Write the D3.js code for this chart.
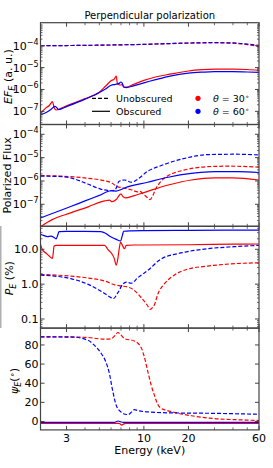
<!DOCTYPE html>
<html>
<head>
<meta charset="utf-8">
<script src="https://cdn.jsdelivr.net/npm/d3@7"></script>
<style>
body { margin: 0; background: #fff; }
svg { display: block; font-family: "DejaVu Sans", sans-serif; }
</style>
</head>
<body>
<svg id="chart" width="273" height="468"></svg>
<script>

// ---- panel 1 : E F_E (a. u.) ----
var fluxUnobsE = [2, 3, 5, 7, 10, 15, 20, 30, 40, 50, 60]
var fluxUnobs30 = [1.0e-4, 1.02e-4, 1.06e-4, 1.1e-4, 1.15e-4, 1.25e-4, 1.32e-4, 1.37e-4, 1.31e-4, 1.13e-4, 9.0e-5]
var fluxUnobs60 = [1.0e-4, 1.02e-4, 1.06e-4, 1.1e-4, 1.16e-4, 1.26e-4, 1.33e-4, 1.38e-4, 1.34e-4, 1.19e-4, 1.04e-4]

var fluxObs30E = [2, 2.17, 2.3, 2.41, 2.47, 2.55, 2.7, 3, 4, 5, 5.5, 6, 6.3, 6.5, 6.62, 6.8, 7.0, 7.15, 7.3, 7.6, 8.5, 10, 12, 15, 20, 25, 30, 40, 50, 60]
var fluxObs30 = [8.5e-8, 1.4e-7, 1.9e-7, 2.8e-7, 1.5e-7, 1.15e-7, 1.3e-7, 1.8e-7, 3.8e-7, 7.5e-7, 1.4e-6, 2.5e-6, 3.0e-6, 4.1e-6, 1.9e-6, 1.65e-6, 1.6e-6, 1.7e-6, 1.3e-6, 1.28e-6, 1.7e-6, 2.6e-6, 3.7e-6, 5.0e-6, 7.0e-6, 8.0e-6, 8.5e-6, 8.6e-6, 8.2e-6, 7.5e-6]

var fluxObs60E = [2, 2.2, 2.35, 2.5, 2.57, 2.65, 3, 4, 5, 5.5, 6, 6.4, 6.8, 7.0, 7.15, 7.3, 7.6, 8.5, 10, 12, 15, 20, 25, 30, 40, 50, 60]
var fluxObs60 = [7e-8, 9e-8, 1.2e-7, 1.7e-7, 1.5e-7, 1.2e-7, 1.65e-7, 3.6e-7, 7.2e-7, 1.05e-6, 1.55e-6, 1.7e-6, 1.9e-6, 2.2e-6, 1.9e-6, 1.3e-6, 1.22e-6, 1.45e-6, 2.0e-6, 2.8e-6, 4.1e-6, 5.6e-6, 6.2e-6, 6.5e-6, 6.5e-6, 6.3e-6, 6.0e-6]

// ---- panel 2 : polarized flux ----
var polUnobs30E = [2, 3.2, 4.2, 5.4, 6.0, 6.66, 7.0, 7.5, 8.2, 9.1, 9.4, 10, 10.6, 11.0, 11.5, 12.0, 12.4, 13.5, 14.6, 18.2, 27, 38, 60]
var polUnobs30 = [1.7e-6, 1.53e-6, 1.3e-6, 1.03e-6, 8.5e-7, 5.6e-7, 5.2e-7, 4.8e-7, 4.2e-7, 3.4e-7, 3.6e-7, 2.6e-7, 1.9e-7, 1.6e-7, 2.4e-7, 4.5e-7, 6.3e-7, 1.2e-6, 1.7e-6, 2.8e-6, 4.1e-6, 4.3e-6, 3.9e-6]

var polUnobs60E = [2, 2.5, 3.2, 4.17, 5.1, 6.1, 6.4, 6.8, 7.4, 8.2, 9.1, 10.6, 13, 18.2, 27, 41, 60]
var polUnobs60 = [1.6e-6, 1.58e-6, 1.35e-6, 7.4e-7, 4.5e-7, 3.8e-7, 4.2e-7, 9.7e-7, 1.1e-6, 8.8e-7, 1.2e-6, 2.6e-6, 4.5e-6, 8.8e-6, 1.35e-5, 1.4e-5, 1.3e-5]

var polObs30E = [2, 2.23, 2.4, 3.2, 4.2, 5.43, 5.85, 6.1, 6.5, 7.0, 7.2, 7.5, 8.5, 10.6, 14.6, 20.9, 30, 40, 60]
var polObs30 = [1.1e-8, 1.7e-8, 2.2e-8, 4.3e-8, 7.8e-8, 1.4e-7, 1.5e-7, 1.3e-7, 1.6e-7, 2.8e-7, 2.2e-7, 1.9e-7, 2.3e-7, 3.6e-7, 6.7e-7, 1.1e-6, 1.35e-6, 1.35e-6, 1.1e-6]

var polObs60E = [2, 3.2, 4, 5, 6, 6.5, 7.0, 7.4, 10.6, 14.6, 20.9, 30, 43, 60]
var polObs60 = [2.6e-8, 8e-8, 1.4e-7, 2.4e-7, 3.8e-7, 3.7e-7, 4.3e-7, 5e-7, 8.8e-7, 1.44e-6, 2.1e-6, 2.5e-6, 2.5e-6, 2.3e-6]

// ---- panel 3 : P_E (%) ----
var pUnobs30E = [2, 3.2, 4.2, 5.43, 6.5, 7.0, 8.2, 9.1, 9.6, 10.6, 11.0, 11.5, 11.8, 12.4, 13.7, 16, 19.8, 27, 38, 60]
var pUnobs30 = [1.9, 1.7, 1.5, 1.23, 0.93, 0.89, 0.76, 0.53, 0.41, 0.24, 0.19, 0.22, 0.26, 0.51, 1.0, 1.8, 2.7, 3.3, 3.8, 4.1]

var pUnobs60E = [2, 3.2, 4.17, 5.1, 6.0, 6.2, 6.66, 7.2, 7.6, 8.2, 9.1, 10.6, 13, 18.2, 27, 41, 60]
var pUnobs60 = [1.82, 1.44, 1.0, 0.64, 0.41, 0.38, 0.56, 1.0, 1.15, 1.06, 1.53, 2.45, 5.2, 8, 10.4, 11.9, 13]

var pObs30E = [2, 2.06, 2.2, 2.29, 2.41, 2.44, 2.47, 2.55, 3, 5, 5.43, 5.7, 6.1, 6.3, 6.5, 6.66, 6.8, 6.96, 7.1, 7.3, 7.4, 7.6, 8.5, 10, 20, 40, 60]
var pObs30 = [13.9, 9.8, 7.5, 6.4, 5.5, 8, 12.5, 13.0, 13, 13, 13, 10, 7.2, 5.5, 3.5, 5.2, 10, 16.2, 13.9, 11, 10.4, 13, 13.3, 13.3, 13.5, 14, 14.2]

var pObs60E = [2, 2.1, 2.23, 2.35, 2.5, 2.55, 2.62, 2.67, 3, 4, 5.1, 5.5, 5.85, 6.2, 6.5, 6.96, 7.15, 7.3, 8, 10, 20, 60]
var pObs60 = [27, 25, 23, 24, 21, 20, 26, 32, 32.5, 32.5, 32, 29, 24, 21, 19.3, 17.3, 25, 33, 34, 34.5, 35, 35.5]

// ---- panel 4 : psi_E (deg) ----
var psiUnobs30E = [2, 4, 5.43, 6.0, 6.4, 6.66, 6.9, 7.4, 8.6, 9.6, 10.0, 10.6, 11.2, 11.8, 12.4, 13, 14.3, 16, 21, 30, 43, 60]
var psiUnobs30 = [88.4, 88, 86, 86.5, 90, 93, 91.5, 86.6, 84.2, 77, 69, 53, 38, 27, 18, 14, 11.5, 9.5, 6, 3, 1.8, 1]

var psiUnobs60E = [2, 3.2, 4.17, 4.6, 5.1, 5.54, 5.85, 6.1, 6.5, 7.0, 7.5, 7.84, 8.2, 8.6, 9.3, 10.6, 15, 30, 60]
var psiUnobs60 = [88.4, 88.4, 85, 80, 72, 62, 50, 35, 17, 10, 7.6, 7.2, 9.5, 12.3, 11, 10, 9, 8.5, 7.5]

var psiObs30E = [2, 6.8, 7.1, 7.3, 7.6, 60]
var psiObs30 = [-2, -2, -3.8, -2.5, -2, -2]

var psiObs60E = [2, 6.3, 6.7, 7.0, 7.3, 60]
var psiObs60 = [-1, -1, 0.5, -0.5, -1, -1]

// ticks
var energyTicks = [3, 10, 20, 60]
var energyTickLabels = ["3", "10", "20", "60"]
var fluxTicks = [1e-7, 1e-6, 1e-5, 1e-4]
var polTicks = [1e-7, 1e-6, 1e-5, 1e-4]
var pTicks = [0.1, 1, 10]
var pTickLabels = ["0.1", "1.0", "10.0"]
var psiTicks = [0, 20, 40, 60, 80]
var psiTickLabels = ["0", "20", "40", "60", "80"]

var RED = "#ff0000", BLUE = "#0000ff"

var svg = d3.select("#chart")

var left = 40.5, right = 259, top0 = 22.7, panelH = 101.8

var x = d3.scaleLog().domain([2, 60]).range([left, right])

function pairs(es, vs) {
    return es.map(function(e, i) { return [e, vs[i]] })
}

var panels = [
    {domain: [2.5e-8, 1.13e-3], log: true, ticks: fluxTicks, labels: null,
     series: [[fluxUnobsE, fluxUnobs30, RED, true], [fluxUnobsE, fluxUnobs60, BLUE, true],
              [fluxObs30E, fluxObs30, RED, false], [fluxObs60E, fluxObs60, BLUE, false]]},
    {domain: [1.14e-8, 2.63e-4], log: true, ticks: polTicks, labels: null,
     series: [[polUnobs30E, polUnobs30, RED, true], [polUnobs60E, polUnobs60, BLUE, true],
              [polObs30E, polObs30, RED, false], [polObs60E, polObs60, BLUE, false]]},
    {domain: [0.0548, 45.7], log: true, ticks: pTicks, labels: pTickLabels,
     series: [[pUnobs30E, pUnobs30, RED, true], [pUnobs60E, pUnobs60, BLUE, true],
              [pObs30E, pObs30, RED, false], [pObs60E, pObs60, BLUE, false]]},
    {domain: [-8.8, 97.6], log: false, ticks: psiTicks, labels: psiTickLabels,
     series: [[psiUnobs30E, psiUnobs30, RED, true], [psiUnobs60E, psiUnobs60, BLUE, true],
              [psiObs30E, psiObs30, RED, false], [psiObs60E, psiObs60, BLUE, false]]}
]

// stray grey edge at the far left of the third panel
svg.append("rect").attr("x", 0).attr("y", 226).attr("width", 1.5).attr("height", 102).attr("fill", "#b0b0b0")

var frameColor = "#444"
var yScales = []

panels.forEach(function(p, k) {
    var y0 = top0 + k * panelH, y1 = y0 + panelH
    var y = p.log ? d3.scaleLog() : d3.scaleLinear()
    y.domain(p.domain).range([y1, y0])
    yScales.push(y)

    var g = svg.append("g")

    g.append("clipPath").attr("id", "clip" + k)
        .append("rect").attr("x", left).attr("y", y0).attr("width", right - left).attr("height", panelH)

    var line = d3.line()
        .x(function(d) { return x(d[0]) })
        .y(function(d) { return y(d[1]) })
        .curve(d3.curveMonotoneX)

    var plot = g.append("g").attr("clip-path", "url(#clip" + k + ")")
    p.series.forEach(function(s) {
        plot.append("path")
            .attr("d", line(pairs(s[0], s[1])))
            .attr("fill", "none")
            .attr("stroke", s[2])
            .attr("stroke-width", 1.2)
            .attr("stroke-dasharray", s[3] ? "4,2" : null)
    })

    // x ticks, top and bottom, inward
    var xMinor = x.ticks().filter(function(t) { return energyTicks.indexOf(t) < 0 })
    energyTicks.forEach(function(t) {
        g.append("line").attr("x1", x(t)).attr("x2", x(t)).attr("y1", y1).attr("y2", y1 - 4).attr("stroke", frameColor)
        g.append("line").attr("x1", x(t)).attr("x2", x(t)).attr("y1", y0).attr("y2", y0 + 4).attr("stroke", frameColor)
    })
    xMinor.forEach(function(t) {
        g.append("line").attr("x1", x(t)).attr("x2", x(t)).attr("y1", y1).attr("y2", y1 - 2.5).attr("stroke", frameColor).attr("stroke-width", 0.8)
        g.append("line").attr("x1", x(t)).attr("x2", x(t)).attr("y1", y0).attr("y2", y0 + 2.5).attr("stroke", frameColor).attr("stroke-width", 0.8)
    })

    // y ticks
    p.ticks.forEach(function(t) {
        g.append("line").attr("x1", left).attr("x2", left + 4).attr("y1", y(t)).attr("y2", y(t)).attr("stroke", frameColor)
        g.append("line").attr("x1", right).attr("x2", right - 4).attr("y1", y(t)).attr("y2", y(t)).attr("stroke", frameColor)
    })
    if (p.log) {
        var yMinor = y.ticks().filter(function(t) {
            var l = Math.log10(t)
            return Math.abs(l - Math.round(l)) > 1e-6
        })
        yMinor.forEach(function(t) {
            g.append("line").attr("x1", left).attr("x2", left + 2).attr("y1", y(t)).attr("y2", y(t)).attr("stroke", frameColor).attr("stroke-width", 0.8)
            g.append("line").attr("x1", right).attr("x2", right - 2).attr("y1", y(t)).attr("y2", y(t)).attr("stroke", frameColor).attr("stroke-width", 0.8)
        })
    }

    // frame
    g.append("rect").attr("x", left).attr("y", y0).attr("width", right - left).attr("height", panelH)
        .attr("fill", "none").attr("stroke", frameColor).attr("stroke-width", 1.2)
})

// y tick labels
var tickText = svg.append("g").attr("font-size", 11).attr("fill", "#000")
panels.forEach(function(p, k) {
    var y = yScales[k]
    p.ticks.forEach(function(t, i) {
        var txt = tickText.append("text")
            .attr("x", 38.5).attr("y", y(t)).attr("dy", "0.36em")
            .attr("text-anchor", "end")
        if (p.labels == null) {
            txt.append("tspan").text("10")
            txt.append("tspan").attr("font-size", 8).attr("dy", -5)
                .text("\u2212" + Math.round(-Math.log10(t)))
        } else {
            txt.text(p.labels[i])
        }
    })
})

// x tick labels on bottom panel
var bottom = top0 + 4 * panelH
energyTicks.forEach(function(t, i) {
    svg.append("text").attr("x", x(t)).attr("y", bottom + 12)
        .attr("text-anchor", "middle").attr("font-size", 11).text(energyTickLabels[i])
})

svg.append("text").attr("x", (left + right) / 2).attr("y", 454)
    .attr("text-anchor", "middle").attr("font-size", 11).text("Energy (keV)")

svg.append("text").attr("x", (left + right) / 2).attr("y", 18.5)
    .attr("text-anchor", "middle").attr("font-size", 10).text("Perpendicular polarization")

// y labels
function yLabel(cx, cy) {
    return svg.append("text")
        .attr("transform", "translate(" + cx + "," + cy + ") rotate(-90)")
        .attr("text-anchor", "middle").attr("font-size", 11)
}

var l1 = yLabel(12, top0 + panelH * 0.5 + 3)
l1.append("tspan").attr("font-style", "italic").text("EF")
l1.append("tspan").attr("font-style", "italic").attr("font-size", 8).attr("dy", 3).text("E")
l1.append("tspan").attr("dy", -3).text(" (a. u.)")

var l2 = yLabel(11, top0 + panelH * 1.5)
l2.text("Polarized Flux")

var l3 = yLabel(13, top0 + panelH * 2.5 + 1)
l3.append("tspan").attr("font-style", "italic").text("P")
l3.append("tspan").attr("font-style", "italic").attr("font-size", 8).attr("dy", 3).text("E")
l3.append("tspan").attr("dy", -3).text(" (%)")

var l4 = yLabel(18, top0 + panelH * 3.5 + 2)
l4.append("tspan").attr("font-style", "italic").text("\u03c8")
l4.append("tspan").attr("font-style", "italic").attr("font-size", 8).attr("dy", 3).text("E")
l4.append("tspan").attr("dy", -3).text("(")
l4.append("tspan").attr("font-size", 8).attr("dy", -3).text("\u2218")
l4.append("tspan").attr("dy", 3).text(")")

// legend in first panel
var leg = svg.append("g")
leg.append("line").attr("x1", 92).attr("x2", 110).attr("y1", 98.3).attr("y2", 98.3)
    .attr("stroke", "#000").attr("stroke-width", 1.2).attr("stroke-dasharray", "4,2")
leg.append("line").attr("x1", 92).attr("x2", 110).attr("y1", 111.3).attr("y2", 111.3)
    .attr("stroke", "#000").attr("stroke-width", 1.2)
leg.append("text").attr("x", 116).attr("y", 101.8).attr("font-size", 9.5).text("Unobscured")
leg.append("text").attr("x", 116).attr("y", 114.8).attr("font-size", 9.5).text("Obscured")

var thetaLabels = ["30", "60"]
var thetaColors = [RED, BLUE]
thetaLabels.forEach(function(a, i) {
    var yy = 98.3 + i * 13
    leg.append("circle").attr("cx", 198).attr("cy", yy).attr("r", 2.6).attr("fill", thetaColors[i])
    var t = leg.append("text").attr("x", 213).attr("y", yy + 3.5).attr("font-size", 9.5)
    t.append("tspan").attr("font-style", "italic").text("\u03b8")
    t.append("tspan").text(" = " + a)
    t.append("tspan").attr("font-size", 7).attr("dy", -3).text("\u2218")
})

</script>
</body>
</html>
